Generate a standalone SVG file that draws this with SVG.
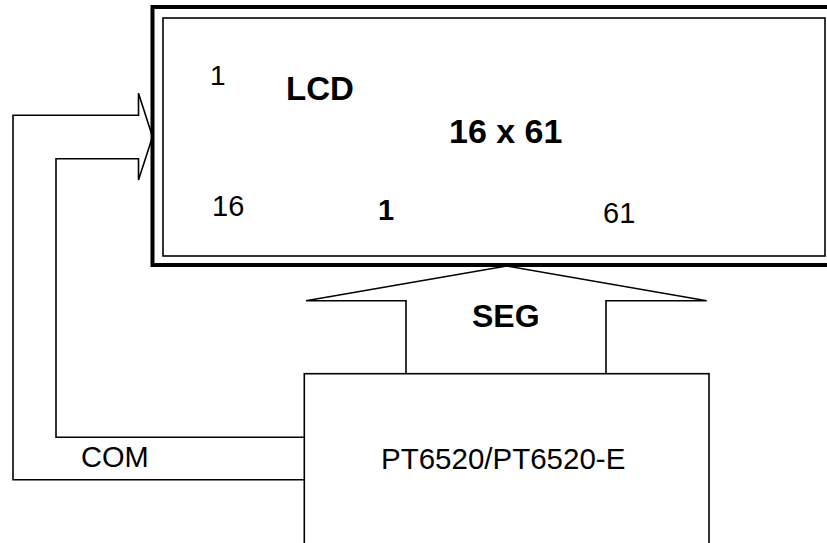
<svg xmlns="http://www.w3.org/2000/svg" width="827" height="543" viewBox="0 0 827 543">
  <style>
    .ln { fill: none; stroke: #000; stroke-width: 1.6; stroke-linejoin: miter; }
    .thick { fill: none; stroke: #000; stroke-width: 4; }
    .t { font-family: "Liberation Sans", Arial, sans-serif; fill: #000; }
    .b { font-weight: bold; }
  </style>
  <rect width="827" height="543" fill="#fff"/>
  <g id="lcd">
    <rect class="thick" x="152.5" y="7" width="700" height="258"/>
    <rect class="ln" x="163" y="18" width="662" height="238"/>
    <text class="t" x="210" y="85" font-size="28">1</text>
    <text class="t b" x="286" y="100" font-size="33">LCD</text>
    <text class="t b" x="449" y="143" font-size="34">16 x 61</text>
    <text class="t" x="212" y="216" font-size="29">16</text>
    <text class="t b" x="378" y="220" font-size="29">1</text>
    <text class="t" x="603" y="223" font-size="29">61</text>
  </g>
  <g id="driver">
    <rect class="ln" x="304.3" y="373.7" width="404.7" height="200"/>
    <text class="t" x="381" y="469" font-size="29.5">PT6520/PT6520-E</text>
  </g>
  <g id="connectors">
    <path id="com" class="ln" d="M304.3,479.7 H13 V115.3 H138.5 V93.3 L152.5,136.7 L138.5,180 V158.7 H56 V437.3 H304.3"/>
    <text class="t" x="81" y="467" font-size="29">COM</text>
    <path id="seg" class="ln" d="M406,373.7 V300.7 H306 L506.7,266 L706.7,300.7 H606 V373.7"/>
    <text class="t b" x="472" y="327" font-size="32">SEG</text>
  </g>
</svg>
